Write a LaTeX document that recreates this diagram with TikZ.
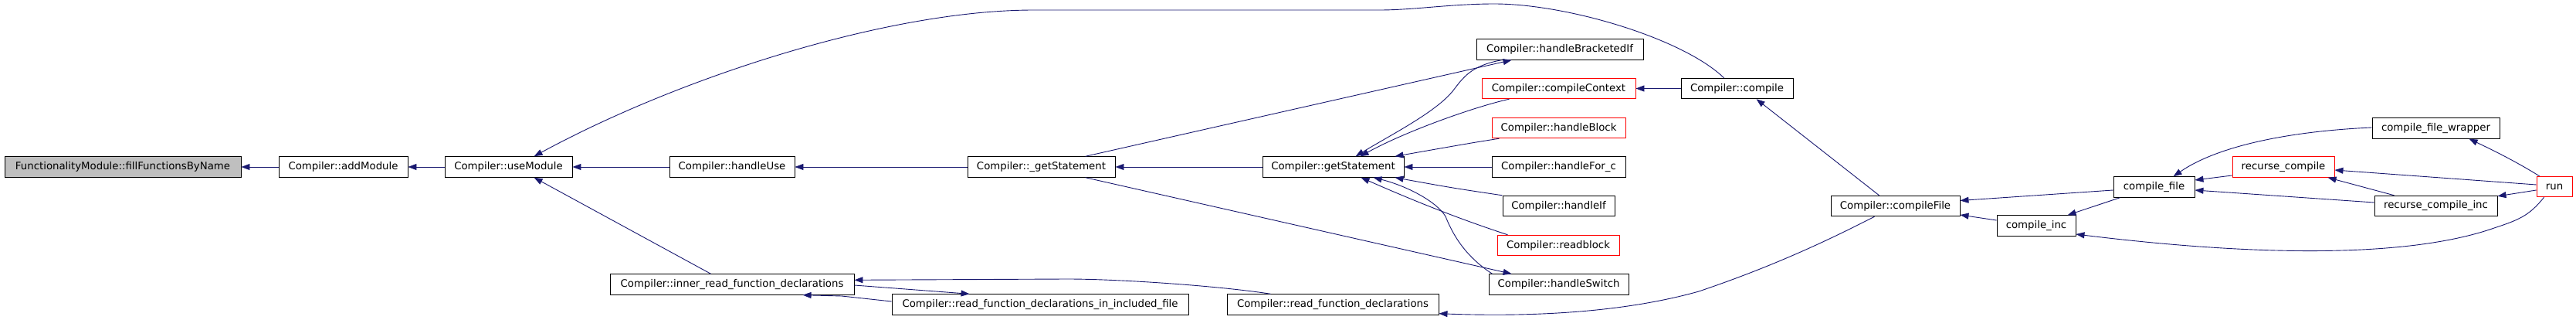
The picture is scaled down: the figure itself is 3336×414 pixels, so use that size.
\documentclass[tikz,border=0pt]{standalone}
\usepackage{fontspec}
\setmainfont{DejaVu Sans}
\usetikzlibrary{arrows.meta,calc}
\definecolor{edgeblue}{HTML}{191970}
\definecolor{nodegray}{HTML}{BFBFBF}
\begin{document}
\begin{tikzpicture}[x=1pt,y=-1pt,
  box/.style={draw=black,line width=0.9pt,fill=white,inner sep=0pt,minimum height=26.5pt,
    font=\fontsize{13.3}{16}\selectfont,text=black},
  redbox/.style={box,draw=red},
  e/.style={draw=edgeblue,line width=0.9pt,-{Triangle[length=11pt,width=8pt]}}]
\useasboundingbox (0,0) rectangle (3336,414);
% nodes
\node[box,fill=nodegray,minimum width=306pt] (fill) at (159,216) {FunctionalityModule::fillFunctionsByName};
\node[box,minimum width=167pt] (addm) at (444.5,216) {Compiler::addModule};
\node[box,minimum width=165pt] (usem) at (658.5,216) {Compiler::useModule};
\node[box,minimum width=162pt] (huse) at (948,216) {Compiler::handleUse};
\node[box,minimum width=191pt] (ugs) at (1348.5,216) {Compiler::\_getStatement};
\node[box,minimum width=183pt] (gs) at (1726.5,216) {Compiler::getStatement};
\node[box,minimum width=216pt] (hbi) at (2020,64) {Compiler::handleBracketedIf};
\node[redbox,minimum width=199pt] (cc) at (2018.5,114.5) {Compiler::compileContext};
\node[redbox,minimum width=173pt] (hb) at (2018.5,165.5) {Compiler::handleBlock};
\node[box,minimum width=173pt] (hfc) at (2018.5,216) {Compiler::handleFor\_c};
\node[box,minimum width=145pt] (hif) at (2018.5,266.5) {Compiler::handleIf};
\node[redbox,minimum width=158pt] (rb) at (2018,317.5) {Compiler::readblock};
\node[box,minimum width=181pt] (hsw) at (2018.5,368) {Compiler::handleSwitch};
\node[box,minimum width=145pt] (comp) at (2249.5,114.5) {Compiler::compile};
\node[box,minimum width=316pt] (ir) at (948,368) {Compiler::inner\_read\_function\_declarations};
\node[box,minimum width=384pt] (rii) at (1347,394) {Compiler::read\_function\_declarations\_in\_included\_file};
\node[box,minimum width=274pt] (rf) at (1726,394) {Compiler::read\_function\_declarations};
\node[box,minimum width=167pt] (cf) at (2454.5,266.5) {Compiler::compileFile};
\node[box,minimum width=102pt] (ci) at (2637,292) {compile\_inc};
\node[box,minimum width=105pt] (cfl) at (2789.5,242) {compile\_file};
\node[redbox,minimum width=132pt] (rc) at (2957,216) {recurse\_compile};
\node[box,minimum width=165pt] (cfw) at (3154.5,166) {compile\_file\_wrapper};
\node[box,minimum width=159pt] (rci) at (3154.5,266.5) {recurse\_compile\_inc};
\node[redbox,minimum width=46pt] (run) at (3308,241.5) {run};
% edges (arrow head at callee)
\draw[e] (addm.west) -- (fill.east);
\draw[e] (usem.west) -- (addm.east);
\draw[e] (huse.west) -- (usem.east);
\draw[e] ($(comp.north west)+(56,0)$) .. controls (2180,50) and (2030,5) .. (1935,5)
   .. controls (1880,5) and (1830,13) .. (1787,13) -- (1339,13)
   .. controls (1150,13) and (880,100) .. ($(usem.north west)+(116,0)$);
\draw[e] ($(ir.north west)+(131,0)$) -- ($(usem.south west)+(116,0)$);
\draw[e] (ugs.west) -- (huse.east);
\draw[e] (gs.west) -- (ugs.east);
\draw[e] ($(ugs.north west)+(153,0)$) -- ($(hbi.south west)+(46,0)$);
\draw[e] ($(ugs.south west)+(153,0)$) -- ($(hsw.north west)+(30,0)$);
\draw[e] ($(hbi.south west)+(33,0)$) .. controls (1905,85) and (1895,100) .. (1882,117)
   .. controls (1860,145) and (1800,175) .. ($(gs.north west)+(121,0)$);
\draw[e] ($(cc.south west)+(36,0)$) .. controls (1910,138) and (1820,170) .. ($(gs.north west)+(127,0)$);
\draw[e] ($(hb.south west)+(10,0)$) .. controls (1905,185) .. ($(gs.north east)+(-12,0)$);
\draw[e] (hfc.west) -- (gs.east);
\draw[e] (hif.north west) .. controls (1880,243) .. ($(gs.south east)+(-12,0)$);
\draw[e] ($(rb.north west)+(14,0)$) .. controls (1880,280) and (1820,255) .. ($(gs.south west)+(128,0)$);
\draw[e] ($(hsw.north west)+(5,0)$) .. controls (1895,330) and (1880,300) .. (1872,280)
   .. controls (1860,260) and (1820,240) .. ($(gs.south west)+(144,0)$);
\draw[e] (comp.west) -- (cc.east);
\draw[e] ($(cf.north west)+(63,0)$) -- ($(comp.south west)+(98,0)$);
\draw[e] ($(rf.north west)+(57,0)$) .. controls (1580,370) and (1450,361) .. (1382,361)
   -- ($(ir.north east)+(0,8)$);
\draw[e] ($(cf.south west)+(57,0)$) .. controls (2350,320) and (2280,350) .. (2200,377)
   .. controls (2100,405) and (1980,410) .. ($(rf.south east)+(0,-2)$);
\draw[e] ($(ir.east)+(0,1)$) -- ($(rii.north west)+(101,0)$);
\draw[e] ($(rii.west)+(0,-4)$) -- (1090,383) -- ($(ir.south west)+(250,0)$);
\draw[e] ($(cfl.west)+(0,4)$) -- ($(cf.east)+(0,-7)$);
\draw[e] ($(ci.west)+(0,-7)$) -- ($(cf.east)+(0,11.5)$);
\draw[e] ($(cfl.south west)+(9,0)$) -- ($(ci.north west)+(92,0)$);
\draw[e] ($(run.south west)+(10,0)$) .. controls (3275,280) and (3260,285) .. (3230,295)
   .. controls (3130,330) and (2950,335) .. ($(ci.east)+(0,11)$);
\draw[e] ($(cfw.west)+(0,-1)$) .. controls (2960,170) and (2870,190) .. ($(cfl.north west)+(78,0)$);
\draw[e] ($(rc.west)+(0,11)$) -- ($(cfl.east)+(0,-9)$);
\draw[e] ($(rci.west)+(0,-4.5)$) -- ($(cfl.east)+(0,4)$);
\draw[e] ($(run.west)+(0,-2.5)$) -- ($(rc.east)+(0,4)$);
\draw[e] ($(rci.north west)+(26,0)$) -- ($(rc.south west)+(124,0)$);
\draw[e] ($(run.west)+(0,4.5)$) -- ($(rci.north east)+(0,1)$);
\draw[e] ($(run.north west)+(4,0)$) .. controls (3260,210) and (3230,195) .. ($(cfw.south west)+(126,0)$);
\end{tikzpicture}
\end{document}
